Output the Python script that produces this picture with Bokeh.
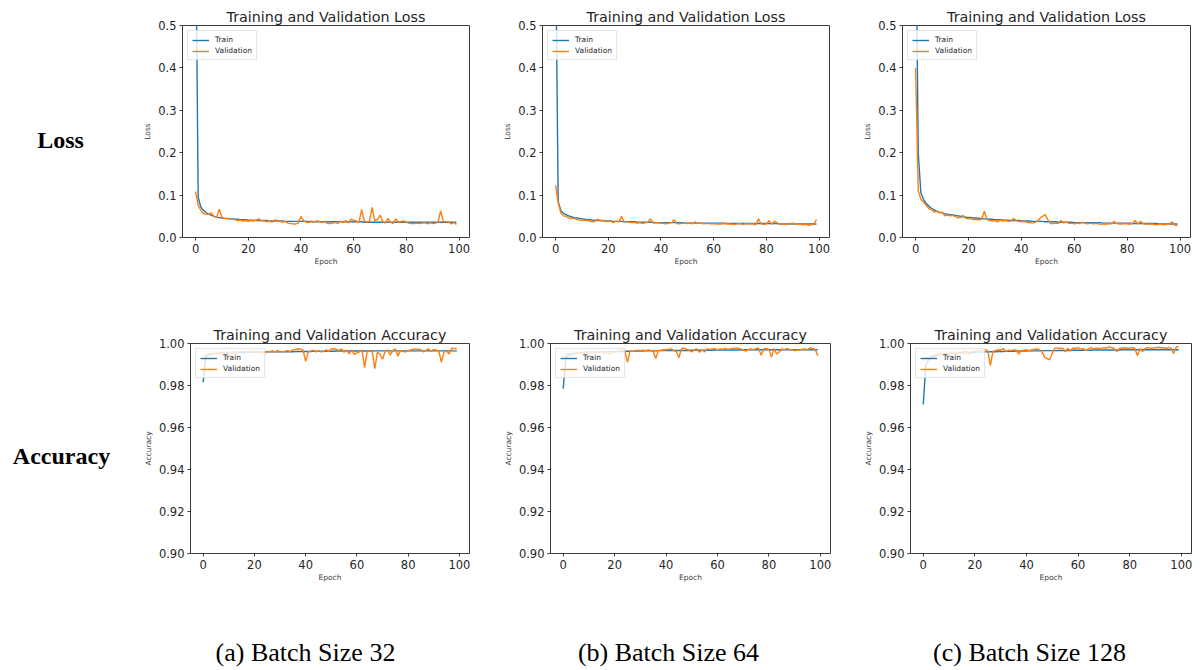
from bokeh.plotting import figure
from bokeh.layouts import row, column
from bokeh.models import Range1d, FixedTicker, Legend, LegendItem, PrintfTickFormatter
from bokeh.embed import file_html
from bokeh.resources import INLINE
from bokeh.core.properties import value

# ---------------- data ----------------
epochs = list(range(100))

loss_train_32 = [0.780, 0.095, 0.072, 0.064, 0.059, 0.055, 0.052, 0.050, 0.048, 0.047,
 0.046, 0.045, 0.045, 0.044, 0.044, 0.043, 0.043, 0.042, 0.042, 0.042,
 0.041, 0.041, 0.041, 0.040, 0.040, 0.040, 0.040, 0.040, 0.039, 0.039,
 0.039, 0.039, 0.039, 0.039, 0.038, 0.038, 0.038, 0.038, 0.038, 0.038,
 0.038, 0.038, 0.038, 0.038, 0.037, 0.037, 0.037, 0.037, 0.037, 0.037,
 0.037, 0.037, 0.037, 0.037, 0.037, 0.037, 0.037, 0.037, 0.037, 0.037,
 0.037, 0.037, 0.037, 0.037, 0.036, 0.036, 0.036, 0.036, 0.036, 0.036,
 0.036, 0.036, 0.036, 0.036, 0.036, 0.036, 0.036, 0.036, 0.036, 0.036,
 0.036, 0.036, 0.036, 0.036, 0.036, 0.036, 0.036, 0.036, 0.036, 0.036,
 0.036, 0.036, 0.036, 0.036, 0.036, 0.036, 0.036, 0.036, 0.036, 0.036]
loss_val_32 = [0.108, 0.076, 0.064, 0.056, 0.055, 0.055, 0.058, 0.050, 0.047, 0.067,
 0.047, 0.045, 0.044, 0.044, 0.043, 0.042, 0.040, 0.041, 0.039, 0.040,
 0.038, 0.040, 0.039, 0.041, 0.044, 0.039, 0.040, 0.037, 0.040, 0.036,
 0.041, 0.040, 0.038, 0.036, 0.038, 0.034, 0.033, 0.032, 0.032, 0.034,
 0.050, 0.040, 0.036, 0.035, 0.039, 0.036, 0.039, 0.038, 0.035, 0.039,
 0.033, 0.033, 0.034, 0.036, 0.033, 0.039, 0.035, 0.040, 0.034, 0.043,
 0.041, 0.039, 0.035, 0.066, 0.039, 0.036, 0.038, 0.071, 0.040, 0.042,
 0.053, 0.038, 0.034, 0.045, 0.036, 0.033, 0.044, 0.036, 0.038, 0.039,
 0.036, 0.034, 0.033, 0.033, 0.034, 0.033, 0.034, 0.035, 0.032, 0.035,
 0.033, 0.034, 0.036, 0.063, 0.038, 0.037, 0.037, 0.032, 0.035, 0.031]
acc_train_32 = [0.9815, 0.9935, 0.9945, 0.9949, 0.9951, 0.9952, 0.9953, 0.9954, 0.9954, 0.9955,
 0.9955, 0.9956, 0.9956, 0.9956, 0.9957, 0.9957, 0.9957, 0.9958, 0.9958, 0.9958,
 0.9958, 0.9959, 0.9959, 0.9959, 0.9959, 0.9960, 0.9960, 0.9960, 0.9960, 0.9960,
 0.9961, 0.9961, 0.9961, 0.9961, 0.9961, 0.9961, 0.9962, 0.9962, 0.9962, 0.9962,
 0.9962, 0.9962, 0.9962, 0.9963, 0.9963, 0.9963, 0.9963, 0.9963, 0.9963, 0.9963,
 0.9963, 0.9963, 0.9964, 0.9964, 0.9964, 0.9964, 0.9964, 0.9964, 0.9964, 0.9964,
 0.9964, 0.9964, 0.9964, 0.9964, 0.9964, 0.9964, 0.9964, 0.9965, 0.9965, 0.9965,
 0.9965, 0.9965, 0.9965, 0.9965, 0.9965, 0.9965, 0.9965, 0.9965, 0.9965, 0.9965,
 0.9965, 0.9965, 0.9965, 0.9965, 0.9965, 0.9965, 0.9965, 0.9965, 0.9965, 0.9965,
 0.9965, 0.9965, 0.9965, 0.9965, 0.9965, 0.9965, 0.9965, 0.9965, 0.9965, 0.9965]
acc_val_32 = [0.9940, 0.9945, 0.9950, 0.9952, 0.9953, 0.9955, 0.9948, 0.9957, 0.9955, 0.9938,
 0.9958, 0.9957, 0.9960, 0.9958, 0.9960, 0.9961, 0.9964, 0.9960, 0.9963, 0.9962,
 0.9963, 0.9961, 0.9962, 0.9960, 0.9955, 0.9962, 0.9960, 0.9966, 0.9958, 0.9967,
 0.9961, 0.9960, 0.9963, 0.9966, 0.9962, 0.9970, 0.9972, 0.9975, 0.9973, 0.9968,
 0.9915, 0.9958, 0.9965, 0.9968, 0.9960, 0.9966, 0.9960, 0.9962, 0.9970, 0.9963,
 0.9974, 0.9975, 0.9972, 0.9966, 0.9974, 0.9958, 0.9968, 0.9950, 0.9970, 0.9948,
 0.9955, 0.9960, 0.9968, 0.9885, 0.9960, 0.9966, 0.9960, 0.9880, 0.9958, 0.9950,
 0.9925, 0.9962, 0.9970, 0.9945, 0.9966, 0.9974, 0.9940, 0.9966, 0.9962, 0.9960,
 0.9966, 0.9970, 0.9973, 0.9974, 0.9972, 0.9970, 0.9960, 0.9968, 0.9974, 0.9962,
 0.9972, 0.9968, 0.9962, 0.9910, 0.9960, 0.9964, 0.9950, 0.9978, 0.9976, 0.9976]

loss_train_64 = [0.720, 0.085, 0.064, 0.057, 0.054, 0.051, 0.049, 0.047, 0.046, 0.045,
 0.044, 0.043, 0.042, 0.042, 0.041, 0.041, 0.040, 0.040, 0.040, 0.039,
 0.039, 0.039, 0.038, 0.038, 0.038, 0.038, 0.037, 0.037, 0.037, 0.037,
 0.037, 0.036, 0.036, 0.036, 0.036, 0.036, 0.036, 0.036, 0.035, 0.035,
 0.035, 0.035, 0.035, 0.035, 0.035, 0.035, 0.035, 0.035, 0.035, 0.034,
 0.034, 0.034, 0.034, 0.034, 0.034, 0.034, 0.034, 0.034, 0.034, 0.034,
 0.034, 0.034, 0.034, 0.034, 0.034, 0.033, 0.033, 0.033, 0.033, 0.033,
 0.033, 0.033, 0.033, 0.033, 0.033, 0.033, 0.033, 0.033, 0.033, 0.033,
 0.033, 0.033, 0.033, 0.033, 0.033, 0.032, 0.032, 0.032, 0.032, 0.032,
 0.032, 0.032, 0.032, 0.032, 0.032, 0.032, 0.032, 0.032, 0.032, 0.032]
loss_val_64 = [0.123, 0.082, 0.058, 0.051, 0.050, 0.046, 0.045, 0.045, 0.043, 0.041,
 0.040, 0.041, 0.040, 0.039, 0.037, 0.038, 0.043, 0.040, 0.039, 0.040,
 0.038, 0.038, 0.035, 0.039, 0.036, 0.050, 0.037, 0.038, 0.036, 0.035,
 0.035, 0.034, 0.035, 0.033, 0.035, 0.036, 0.044, 0.034, 0.035, 0.034,
 0.034, 0.033, 0.032, 0.034, 0.035, 0.042, 0.033, 0.032, 0.034, 0.034,
 0.033, 0.035, 0.032, 0.037, 0.033, 0.034, 0.032, 0.033, 0.033, 0.032,
 0.033, 0.032, 0.032, 0.032, 0.033, 0.032, 0.032, 0.031, 0.031, 0.032,
 0.033, 0.031, 0.032, 0.033, 0.032, 0.032, 0.030, 0.044, 0.032, 0.031,
 0.032, 0.040, 0.031, 0.038, 0.035, 0.031, 0.032, 0.031, 0.031, 0.032,
 0.034, 0.031, 0.031, 0.031, 0.030, 0.031, 0.029, 0.030, 0.031, 0.042]
acc_train_64 = [0.9785, 0.9930, 0.9942, 0.9948, 0.9951, 0.9953, 0.9954, 0.9955, 0.9956, 0.9957,
 0.9957, 0.9958, 0.9958, 0.9959, 0.9959, 0.9960, 0.9960, 0.9960, 0.9961, 0.9961,
 0.9961, 0.9962, 0.9962, 0.9962, 0.9963, 0.9963, 0.9963, 0.9963, 0.9964, 0.9964,
 0.9964, 0.9964, 0.9965, 0.9965, 0.9965, 0.9965, 0.9965, 0.9966, 0.9966, 0.9966,
 0.9966, 0.9966, 0.9966, 0.9967, 0.9967, 0.9967, 0.9967, 0.9967, 0.9967, 0.9967,
 0.9968, 0.9968, 0.9968, 0.9968, 0.9968, 0.9968, 0.9968, 0.9968, 0.9968, 0.9969,
 0.9969, 0.9969, 0.9969, 0.9969, 0.9969, 0.9969, 0.9969, 0.9969, 0.9969, 0.9969,
 0.9969, 0.9970, 0.9970, 0.9970, 0.9970, 0.9970, 0.9970, 0.9970, 0.9970, 0.9970,
 0.9970, 0.9970, 0.9970, 0.9970, 0.9970, 0.9970, 0.9970, 0.9970, 0.9970, 0.9970,
 0.9970, 0.9970, 0.9970, 0.9970, 0.9970, 0.9970, 0.9970, 0.9970, 0.9970, 0.9970]
acc_val_64 = [0.9935, 0.9945, 0.9950, 0.9952, 0.9954, 0.9955, 0.9956, 0.9955, 0.9957, 0.9958,
 0.9958, 0.9956, 0.9958, 0.9960, 0.9962, 0.9960, 0.9952, 0.9957, 0.9948, 0.9956,
 0.9960, 0.9962, 0.9966, 0.9970, 0.9962, 0.9910, 0.9966, 0.9962, 0.9966, 0.9968,
 0.9966, 0.9968, 0.9965, 0.9970, 0.9966, 0.9962, 0.9928, 0.9966, 0.9968, 0.9970,
 0.9970, 0.9972, 0.9974, 0.9966, 0.9962, 0.9932, 0.9976, 0.9978, 0.9972, 0.9968,
 0.9960, 0.9970, 0.9974, 0.9958, 0.9970, 0.9960, 0.9974, 0.9972, 0.9974, 0.9976,
 0.9970, 0.9974, 0.9972, 0.9976, 0.9972, 0.9974, 0.9976, 0.9978, 0.9978, 0.9974,
 0.9970, 0.9964, 0.9972, 0.9974, 0.9970, 0.9976, 0.9978, 0.9944, 0.9974, 0.9976,
 0.9972, 0.9935, 0.9976, 0.9950, 0.9960, 0.9974, 0.9970, 0.9976, 0.9972, 0.9970,
 0.9966, 0.9968, 0.9970, 0.9972, 0.9974, 0.9970, 0.9980, 0.9976, 0.9972, 0.9942]

loss_train_128 = [0.820, 0.200, 0.105, 0.090, 0.080, 0.074, 0.069, 0.065, 0.062, 0.060,
 0.058, 0.056, 0.055, 0.054, 0.053, 0.052, 0.051, 0.050, 0.049, 0.048,
 0.047, 0.047, 0.046, 0.046, 0.045, 0.045, 0.044, 0.044, 0.043, 0.043,
 0.042, 0.042, 0.042, 0.041, 0.041, 0.041, 0.040, 0.040, 0.040, 0.040,
 0.039, 0.039, 0.039, 0.039, 0.038, 0.038, 0.038, 0.038, 0.038, 0.037,
 0.037, 0.037, 0.037, 0.037, 0.036, 0.036, 0.036, 0.036, 0.036, 0.036,
 0.035, 0.035, 0.035, 0.035, 0.035, 0.035, 0.035, 0.035, 0.035, 0.035,
 0.035, 0.034, 0.034, 0.034, 0.034, 0.034, 0.034, 0.034, 0.034, 0.034,
 0.034, 0.034, 0.033, 0.033, 0.033, 0.033, 0.033, 0.033, 0.033, 0.033,
 0.033, 0.033, 0.032, 0.032, 0.032, 0.032, 0.032, 0.032, 0.032, 0.032]
loss_val_128 = [0.400, 0.110, 0.090, 0.083, 0.076, 0.068, 0.066, 0.060, 0.062, 0.058,
 0.060, 0.051, 0.053, 0.051, 0.052, 0.050, 0.046, 0.047, 0.052, 0.045,
 0.044, 0.044, 0.042, 0.043, 0.042, 0.043, 0.062, 0.043, 0.040, 0.039,
 0.040, 0.037, 0.041, 0.039, 0.040, 0.038, 0.039, 0.045, 0.040, 0.038,
 0.037, 0.038, 0.036, 0.035, 0.034, 0.035, 0.038, 0.045, 0.050, 0.054,
 0.042, 0.033, 0.033, 0.034, 0.033, 0.040, 0.034, 0.037, 0.033, 0.034,
 0.032, 0.034, 0.033, 0.036, 0.034, 0.032, 0.034, 0.032, 0.033, 0.033,
 0.031, 0.032, 0.031, 0.033, 0.032, 0.038, 0.033, 0.032, 0.032, 0.033,
 0.032, 0.031, 0.033, 0.040, 0.032, 0.038, 0.033, 0.031, 0.032, 0.032,
 0.031, 0.030, 0.031, 0.031, 0.030, 0.031, 0.031, 0.037, 0.029, 0.029]
acc_train_128 = [0.9710, 0.9900, 0.9922, 0.9932, 0.9938, 0.9942, 0.9945, 0.9947, 0.9949, 0.9950,
 0.9952, 0.9953, 0.9954, 0.9955, 0.9955, 0.9956, 0.9956, 0.9957, 0.9957, 0.9958,
 0.9958, 0.9959, 0.9959, 0.9960, 0.9960, 0.9960, 0.9961, 0.9961, 0.9961, 0.9962,
 0.9962, 0.9962, 0.9963, 0.9963, 0.9963, 0.9963, 0.9964, 0.9964, 0.9964, 0.9964,
 0.9964, 0.9965, 0.9965, 0.9965, 0.9965, 0.9965, 0.9966, 0.9966, 0.9966, 0.9966,
 0.9966, 0.9966, 0.9967, 0.9967, 0.9967, 0.9967, 0.9967, 0.9967, 0.9968, 0.9968,
 0.9968, 0.9968, 0.9968, 0.9968, 0.9968, 0.9968, 0.9969, 0.9969, 0.9969, 0.9969,
 0.9969, 0.9969, 0.9969, 0.9969, 0.9969, 0.9969, 0.9969, 0.9970, 0.9970, 0.9970,
 0.9970, 0.9970, 0.9970, 0.9970, 0.9970, 0.9970, 0.9970, 0.9970, 0.9970, 0.9970,
 0.9970, 0.9970, 0.9970, 0.9970, 0.9970, 0.9970, 0.9970, 0.9970, 0.9970, 0.9970]
acc_val_128 = [0.9915, 0.9930, 0.9935, 0.9938, 0.9942, 0.9948, 0.9950, 0.9952, 0.9950, 0.9954,
 0.9950, 0.9958, 0.9955, 0.9958, 0.9956, 0.9958, 0.9962, 0.9960, 0.9948, 0.9965,
 0.9962, 0.9966, 0.9968, 0.9966, 0.9970, 0.9966, 0.9895, 0.9962, 0.9966, 0.9970,
 0.9968, 0.9976, 0.9962, 0.9968, 0.9966, 0.9970, 0.9968, 0.9950, 0.9966, 0.9968,
 0.9970, 0.9966, 0.9970, 0.9972, 0.9974, 0.9970, 0.9960, 0.9935, 0.9928, 0.9922,
 0.9955, 0.9978, 0.9978, 0.9976, 0.9978, 0.9960, 0.9976, 0.9966, 0.9978, 0.9976,
 0.9980, 0.9972, 0.9976, 0.9966, 0.9974, 0.9980, 0.9974, 0.9978, 0.9976, 0.9976,
 0.9980, 0.9978, 0.9984, 0.9980, 0.9976, 0.9962, 0.9976, 0.9978, 0.9980, 0.9978,
 0.9978, 0.9980, 0.9976, 0.9942, 0.9976, 0.9962, 0.9976, 0.9980, 0.9978, 0.9978,
 0.9980, 0.9982, 0.9980, 0.9980, 0.9976, 0.9980, 0.9978, 0.9952, 0.9982, 0.9986]

x_ticks = [0, 20, 40, 60, 80, 100]
loss_ticks = [0.0, 0.1, 0.2, 0.3, 0.4, 0.5]
acc_ticks = [0.90, 0.92, 0.94, 0.96, 0.98, 1.00]
series_names = ["Train", "Validation"]
row_labels = ["Loss", "Accuracy"]
captions = ["(a) Batch Size 32", "(b) Batch Size 64", "(c) Batch Size 128"]

# ---------------- styling ----------------
FONT = "DejaVu Sans"
SERIF = "Liberation Serif"
BLUE = "#1f77b4"
ORANGE = "#ff7f0e"
DARK = "#262626"


def panel(width, height, bl, br, bt, bb, title, ylabel, yrange, yticks, yfmt, train, val):
    p = figure(width=width, height=height, output_backend="svg", toolbar_location=None,
               x_range=Range1d(-4.95, 103.95), y_range=Range1d(*yrange),
               min_border_left=bl, min_border_right=br,
               min_border_top=bt, min_border_bottom=bb)
    p.title.text = title
    p.title.text_font = FONT
    p.title.text_font_size = "14.3px"
    p.title.text_font_style = "normal"
    p.title.text_color = DARK
    p.title.align = "center"
    p.title.standoff = 2
    p.grid.visible = False
    p.outline_line_color = "#3a3a3a"
    p.outline_line_width = 1
    p.background_fill_color = "white"
    p.border_fill_color = "white"

    p.xaxis.ticker = FixedTicker(ticks=x_ticks)
    p.xaxis.formatter = PrintfTickFormatter(format="%d")
    p.yaxis.ticker = FixedTicker(ticks=yticks)
    p.yaxis.formatter = PrintfTickFormatter(format=yfmt)
    p.xaxis.axis_label = "Epoch"
    p.yaxis.axis_label = ylabel
    for ax in (p.xaxis[0], p.yaxis[0]):
        ax.axis_line_color = None
        ax.major_tick_in = 0
        ax.major_tick_out = 3
        ax.major_tick_line_color = "#3a3a3a"
        ax.minor_tick_line_color = None
        ax.major_label_text_font = FONT
        ax.major_label_text_font_size = "11.5px"
        ax.major_label_text_color = DARK
        ax.major_label_standoff = 3
        ax.axis_label_text_font = FONT
        ax.axis_label_text_font_size = "7.5px"
        ax.axis_label_text_font_style = "normal"
        ax.axis_label_text_color = "#404040"
    p.xaxis[0].axis_label_standoff = 1
    p.yaxis[0].axis_label_standoff = 3

    r1 = p.line(epochs, train, line_color=BLUE, line_width=1.4)
    r2 = p.line(epochs, val, line_color=ORANGE, line_width=1.4)
    legend = Legend(items=[LegendItem(label=series_names[0], renderers=[r1]),
                           LegendItem(label=series_names[1], renderers=[r2])],
                    location="top_left", margin=5, padding=4, spacing=2,
                    glyph_width=17, glyph_height=8, label_height=8, label_standoff=6,
                    label_text_font=FONT, label_text_font_size="7.5px",
                    label_text_color=DARK,
                    border_line_color="#cccccc", border_line_width=1,
                    background_fill_color="white", background_fill_alpha=0.8)
    p.add_layout(legend)
    return p


loss_title = "Training and Validation Loss"
acc_title = "Training and Validation Accuracy"

# top row spans page y 0..298, bottom row 298..600, captions 600..670
l1 = panel(360, 298, 41, 31, 25, 61, loss_title, "Loss", (0, 0.5), loss_ticks, "%.1f", loss_train_32, loss_val_32)
l2 = panel(360, 298, 41, 31, 25, 61, loss_title, "Loss", (0, 0.5), loss_ticks, "%.1f", loss_train_64, loss_val_64)
l3 = panel(334, 298, 42, 4, 25, 61, loss_title, "Loss", (0, 0.5), loss_ticks, "%.1f", loss_train_128, loss_val_128)

a1 = panel(360, 302, 48, 31, 45, 47, acc_title, "Accuracy", (0.9, 1.0), acc_ticks, "%.2f", acc_train_32, acc_val_32)
a2 = panel(360, 302, 48, 30, 45, 47, acc_title, "Accuracy", (0.9, 1.0), acc_ticks, "%.2f", acc_train_64, acc_val_64)
a3 = panel(334, 302, 49, 3, 45, 47, acc_title, "Accuracy", (0.9, 1.0), acc_ticks, "%.2f", acc_train_128, acc_val_128)


def text_fig(w, h):
    f = figure(width=w, height=h, output_backend="svg", toolbar_location=None, title=None,
               x_range=Range1d(0, w), y_range=Range1d(0, h),
               x_axis_location=None, y_axis_location=None, min_border=0)
    f.grid.visible = False
    f.outline_line_color = None
    return f


LAB_H = 600
lab = text_fig(140, LAB_H)
lab.text(x=[60, 61], y=[LAB_H - 139, LAB_H - 455], text=row_labels,
         text_font=value(SERIF), text_font_style="bold", text_font_size="24px",
         text_color="black", text_align="center", text_baseline="alphabetic")

CAP_H = 70
cap = text_fig(1194, CAP_H)
cap.text(x=[305, 668, 1029], y=[CAP_H - 52] * 3, text=captions,
         text_font=value(SERIF), text_font_size="26px",
         text_color="black", text_align="center", text_baseline="alphabetic")

layout = column(row(lab, column(row(l1, l2, l3), row(a1, a2, a3))), cap)

open("out.html", "w").write(file_html(layout, INLINE))
